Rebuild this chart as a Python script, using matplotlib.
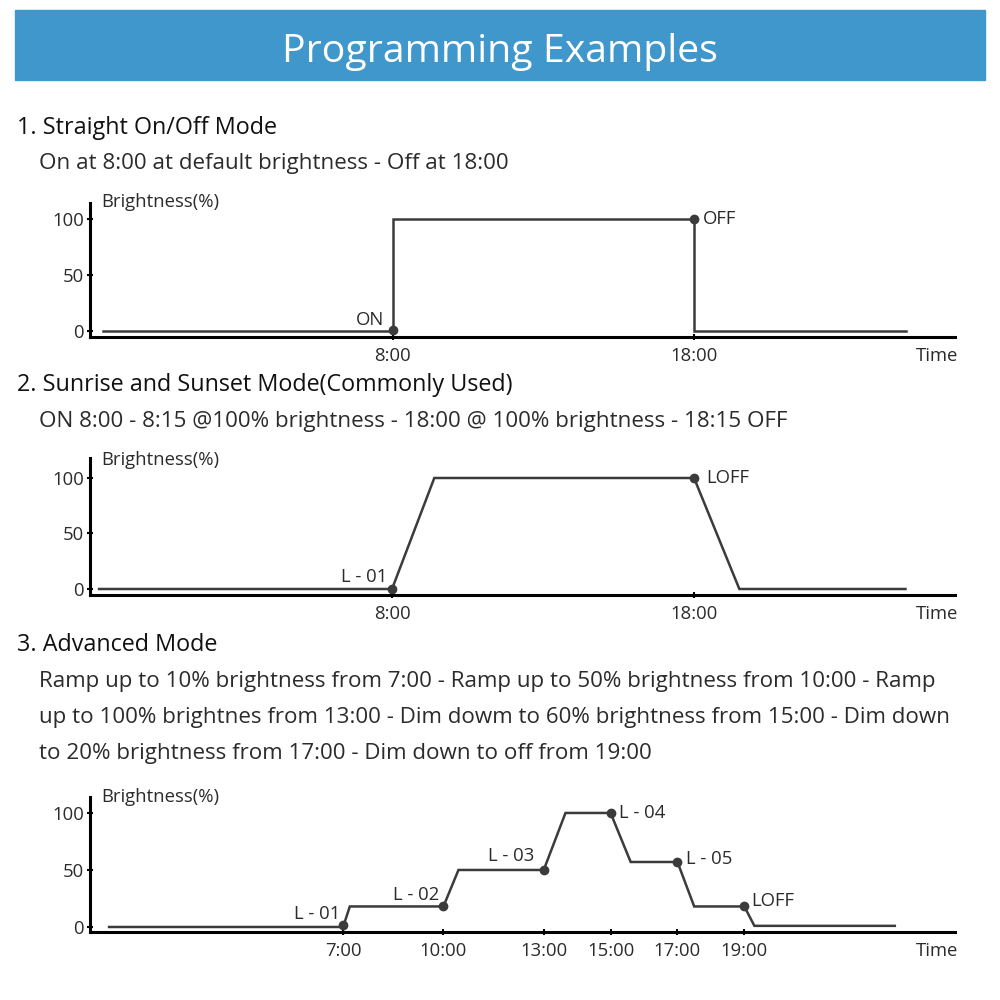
import matplotlib.pyplot as plt
import matplotlib.patches as patches

plt.rcParams['font.family'] = ['Open Sans', 'DejaVu Sans']

# chart 1 - straight on/off
t1 = [-1.6, 8, 8, 18, 18, 25]
b1 = [0, 0, 100, 100, 0, 0]
pts1_t = [8, 18]
pts1_b = [1, 100]
pts1_lab = ['ON', 'OFF']

# chart 2 - sunrise / sunset
t2 = [-1.7, 8, 9.4, 18, 19.5, 25]
b2 = [0, 0, 100, 100, 0, 0]
pts2_t = [8, 18]
pts2_b = [0, 100]
pts2_lab = ['L - 01', 'LOFF']

# chart 3 - advanced
t3 = [0, 7, 7.2, 10, 10.45, 13, 13.65, 15, 15.6, 17, 17.5, 19, 19.3, 23.5]
b3 = [0, 0, 18, 18, 50, 50, 100, 100, 57, 57, 18, 18, 1, 1]
pts3_t = [7, 10, 13, 15, 17, 19]
pts3_b = [2, 18, 50, 100, 57, 18]
pts3_lab = ['L - 01', 'L - 02', 'L - 03', 'L - 04', 'L - 05', 'LOFF']

ticks12 = [8, 18]
ticks3 = [7, 10, 13, 15, 17, 19]

line_c = '#3b3b3b'
txt_c = '#2b2b2b'
small = 13.3

fig = plt.figure(figsize=(10, 10), dpi=100)

def px(x, y):
    return x / 1000, 1 - y / 1000

# header banner
fig.patches.append(patches.Rectangle((0.015, 0.92), 0.97, 0.07, transform=fig.transFigure,
                                     color='#3f97cc', zorder=0))
fig.text(0.5, 0.948, 'Programming Examples', color='white', fontsize=28.3,
         ha='center', va='center')

def heading(y, s):
    fig.text(*px(17, y), s, fontsize=16.8, color='#111111', va='center')

def body(y, s):
    fig.text(*px(39, y), s, fontsize=16.1, color=txt_c, va='center')

heading(128, '1. Straight On/Off Mode')
body(163, 'On at 8:00 at default brightness - Off at 18:00')
heading(385, '2. Sunrise and Sunset Mode(Commonly Used)')
body(421, 'ON 8:00 - 8:15 @100% brightness - 18:00 @ 100% brightness - 18:15 OFF')
heading(645, '3. Advanced Mode')
body(681, 'Ramp up to 10% brightness from 7:00 - Ramp up to 50% brightness from 10:00 - Ramp')
body(717, 'up to 100% brightnes from 13:00 - Dim dowm to 60% brightness from 15:00 - Dim down')
body(753, 'to 20% brightness from 17:00 - Dim down to off from 19:00')


def chart(top, bottom, xlim, ylim, t, b, pt_t, pt_b, labs, offs, ticks):
    ax = fig.add_axes([0.09, 1 - bottom / 1000, 0.865, (bottom - top) / 1000])
    ax.plot(t, b, color=line_c, lw=1.8, solid_joinstyle='miter')
    ax.plot(pt_t, pt_b, 'o', color=line_c, ms=6)
    for x, y, s, (dx, dy, ha) in zip(pt_t, pt_b, labs, offs):
        ax.annotate(s, (x, y), xytext=(dx, dy), textcoords='offset points',
                    ha=ha, va='center', fontsize=small, color=txt_c)
    ax.set_xlim(*xlim)
    ax.set_ylim(*ylim)
    ax.set_xticks(ticks)
    ax.set_xticklabels([f'{h}:00' for h in ticks])
    ax.set_yticks([0, 50, 100])
    ax.tick_params(direction='inout', length=5, width=1.5, color='black',
                   labelsize=small, labelcolor=txt_c, pad=2)
    ax.tick_params(axis='x', pad=4.5)
    for s in ['top', 'right']:
        ax.spines[s].set_visible(False)
    for s in ['left', 'bottom']:
        ax.spines[s].set_linewidth(2.2)
    ax.patch.set_alpha(0)
    return ax

chart(203, 337, (-2.03, 26.64), (-5.4, 114.2), t1, b1, pts1_t, pts1_b, pts1_lab,
      [(-6, 7, 'right'), (6.5, 0, 'left')], ticks12)
chart(458, 595, (-2.0, 26.64), (-5.4, 118), t2, b2, pts2_t, pts2_b, pts2_lab,
      [(-3, 9, 'right'), (8.5, 0, 'left')], ticks12)
chart(797, 932, (-0.57, 25.3), (-4.4, 114), t3, b3, pts3_t, pts3_b, pts3_lab,
      [(-2, 8, 'right'), (-3, 8, 'right'), (-6.5, 10, 'right'),
       (6, 0, 'left'), (6, 2, 'left'), (5, 4, 'left')], ticks3)

# axis titles
for y in [202, 460, 797]:
    fig.text(*px(101, y), 'Brightness(%)', fontsize=small, color=txt_c, va='center')
for y in [356, 614, 951]:
    fig.text(*px(958, y), 'Time', fontsize=small, color=txt_c, va='center', ha='right')

fig.savefig('out.png', dpi=100, facecolor='white')
